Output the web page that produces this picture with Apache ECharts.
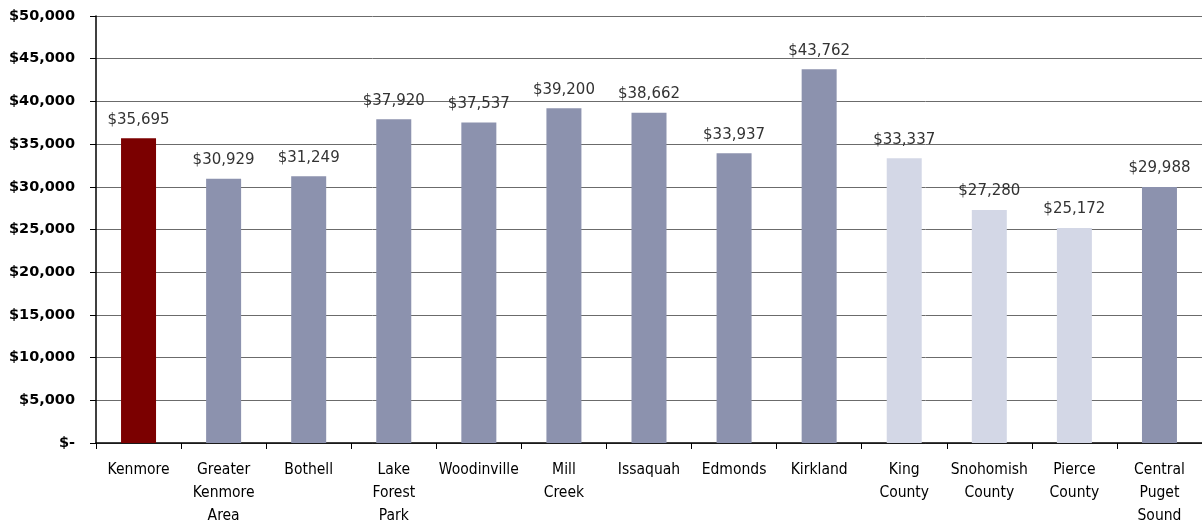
<!DOCTYPE html>
<html><head><meta charset="utf-8">
<script src="https://cdn.jsdelivr.net/npm/echarts@6/dist/echarts.min.js"></script>
<style>html,body{margin:0;padding:0;background:#fff}#c{width:1202px;height:527px}</style>
</head><body><div id="c"></div>
<script>
const categories = ['Kenmore','Greater\nKenmore\nArea','Bothell','Lake\nForest\nPark','Woodinville','Mill\nCreek','Issaquah','Edmonds','Kirkland','King\nCounty','Snohomish\nCounty','Pierce\nCounty','Central\nPuget\nSound'];
const values = [35695,30929,31249,37920,37537,39200,38662,33937,43762,33337,27280,25172,29988];
const colors = ['#7B0000','#8C92AE','#8C92AE','#8C92AE','#8C92AE','#8C92AE','#8C92AE','#8C92AE','#8C92AE','#D3D7E6','#D3D7E6','#D3D7E6','#8C92AE'];
const yTicks = [0,5000,10000,15000,20000,25000,30000,35000,40000,45000,50000];

function fmt(v){ return v===0 ? '$-' : '$' + v.toLocaleString('en-US'); }

const chart = echarts.init(document.getElementById('c'));
chart.setOption({
  animation:false,
  grid:{left:96,right:-3,top:16,bottom:84,containLabel:false},
  xAxis:{type:'category',data:categories,
    axisLine:{lineStyle:{color:'#000',width:1.5}},
    axisTick:{show:true,length:6,lineStyle:{color:'#000'}},
    axisLabel:{color:'#000',fontFamily:'Liberation Sans Narrow, DejaVu Sans Condensed, sans-serif',fontSize:15.5,lineHeight:23,margin:15,interval:0}},
  yAxis:{type:'value',min:0,max:50000,interval:5000,
    axisLine:{show:true,lineStyle:{color:'#000',width:1.5}},
    axisTick:{show:true,length:6,lineStyle:{color:'#000'}},
    splitLine:{lineStyle:{color:'#6b6b6b',width:1}},
    axisLabel:{color:'#000',fontWeight:'bold',fontFamily:'DejaVu Sans, sans-serif',fontSize:14.5,margin:21,formatter:fmt}},
  series:[{type:'bar',barWidth:35,
    data:values.map((v,i)=>({value:v,itemStyle:{color:colors[i]}})),
    label:{show:true,position:'top',distance:11,color:'#333',fontFamily:'DejaVu Sans, sans-serif',fontSize:15,formatter:p=>fmt(p.value)}}]
});
</script></body></html>
